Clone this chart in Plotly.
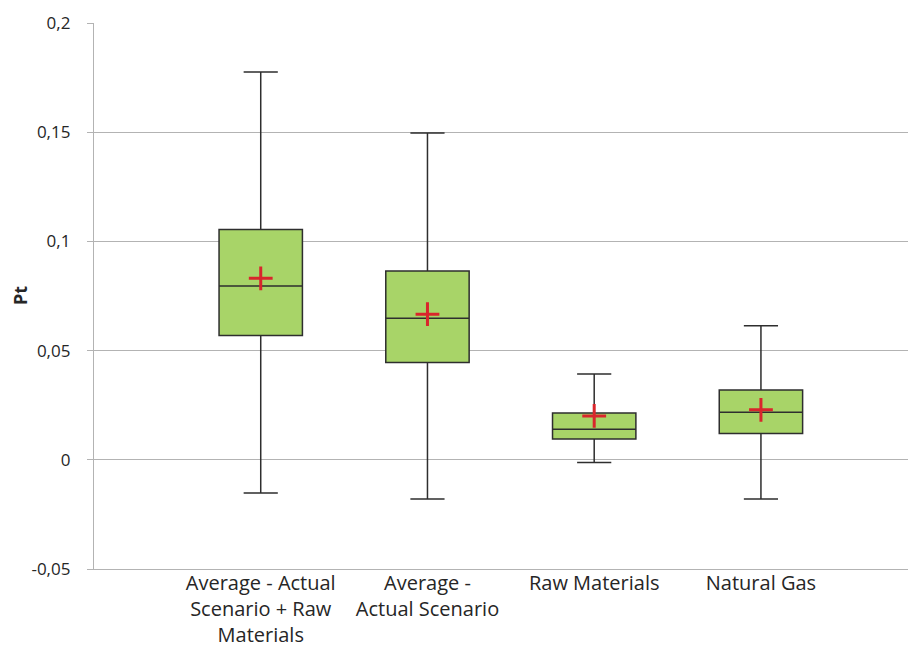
import plotly.graph_objects as go

categories = ["Average - Actual<br>Scenario + Raw<br>Materials",
              "Average -<br>Actual Scenario",
              "Raw Materials",
              "Natural Gas"]
positions = [1, 2, 3, 4]
lower_whisker = [-0.0152, -0.0180, -0.0012, -0.0180]
q1 = [0.0569, 0.0445, 0.0095, 0.0120]
median = [0.0796, 0.0648, 0.0140, 0.0218]
q3 = [0.1055, 0.0865, 0.0214, 0.0320]
upper_whisker = [0.1776, 0.1496, 0.0393, 0.0614]
mean = [0.0831, 0.0667, 0.0201, 0.0229]

y_tickvals = [-0.05, 0, 0.05, 0.1, 0.15, 0.2]
y_ticktext = ["-0,05", "0", "0,05", "0,1", "0,15", "0,2"]

font_family = "Open Sans, Lato, sans-serif"
grid_col = "#b3b3b3"

fig = go.Figure()
fig.add_trace(go.Box(
    x=positions,
    q1=q1, median=median, q3=q3,
    lowerfence=lower_whisker, upperfence=upper_whisker,
    width=0.5,
    whiskerwidth=0.41,
    fillcolor="#a8d468",
    line=dict(color="#2e2e2e", width=1.5),
    boxpoints=False,
    hoverinfo="skip",
    showlegend=False,
))
fig.add_trace(go.Scatter(
    x=positions, y=mean, mode="markers",
    marker=dict(symbol="cross-thin", size=17,
                line=dict(color="#d9262c", width=3), color="#d9262c"),
    showlegend=False, hoverinfo="skip",
))

fig.update_layout(
    width=908, height=638,
    margin=dict(l=86, r=0, t=14.5, b=77),
    paper_bgcolor="white", plot_bgcolor="white",
    font=dict(family=font_family, size=17, color="#262626"),
    xaxis=dict(
        range=[0, 4.93],
        tickvals=positions, ticktext=categories,
        showgrid=False, zeroline=False,
        showline=True, linecolor=grid_col, linewidth=1.3,
        ticks="", automargin=False,
        ticklabelstandoff=-4,
        tickfont=dict(size=20),
    ),
    yaxis=dict(
        range=[-0.05, 0.2],
        tickvals=y_tickvals, ticktext=y_ticktext,
        showgrid=True, gridcolor=grid_col, gridwidth=1.3,
        zeroline=False,
        showline=True, linecolor=grid_col, linewidth=1.3,
        ticks="outside", ticklen=6, tickcolor=grid_col,
        ticklabelstandoff=13, automargin=False,
        tickfont=dict(size=17),
    ),
    annotations=[dict(
        text="<b>Pt</b>", xref="paper", yref="paper",
        x=(12 - 86) / 822, y=0.5, xanchor="center", yanchor="middle",
        textangle=-90, showarrow=False, font=dict(size=18),
    )],
)

fig.write_html("out.html")
